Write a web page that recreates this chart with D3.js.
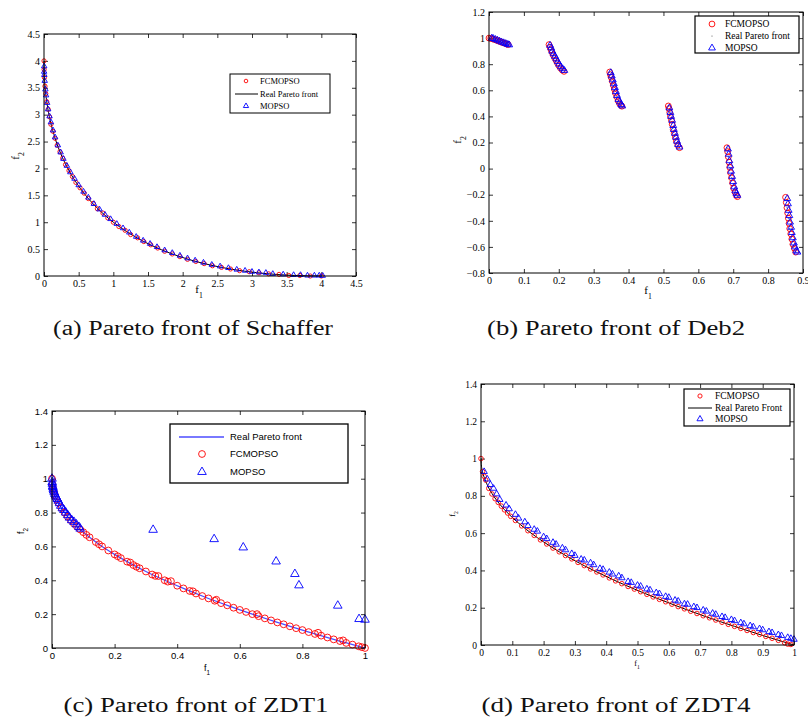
<!DOCTYPE html>
<html>
<head>
<meta charset="utf-8">
<script src="https://cdnjs.cloudflare.com/ajax/libs/d3/7.8.5/d3.min.js"></script>
<style>
  body { margin: 0; background: #fff; }
</style>
</head>
<body>
<div id="chart"></div>
<script>
// ---- data ----
// (a) Schaffer
var schafferFront = [[0,4],[0.0025,3.80],[0.01,3.61],[0.0225,3.42],[0.04,3.24],[0.09,2.89],[0.16,2.56],[0.25,2.25],[0.36,1.96],[0.49,1.69],[0.64,1.44],[0.81,1.21],[1,1],[1.21,0.81],[1.44,0.64],[1.69,0.49],[1.96,0.36],[2.25,0.25],[2.56,0.16],[2.89,0.09],[3.24,0.04],[3.61,0.01],[4,0]];
var schafferFC = [[0,4.00],[0.002,3.84],[0.006,3.69],[0.014,3.53],[0.026,3.39],[0.04,3.24],[0.06,3.10],[0.08,2.96],[0.10,2.82],[0.13,2.69],[0.16,2.56],[0.19,2.43],[0.23,2.31],[0.27,2.19],[0.31,2.07],[0.36,1.96],[0.41,1.85],[0.46,1.74],[0.52,1.64],[0.58,1.54],[0.64,1.44],[0.71,1.35],[0.77,1.25],[0.85,1.17],[0.92,1.08],[1.00,1.00],[1.08,0.92],[1.17,0.85],[1.25,0.77],[1.35,0.71],[1.44,0.64],[1.54,0.58],[1.64,0.52],[1.74,0.46],[1.85,0.41],[1.96,0.36],[2.07,0.31],[2.19,0.27],[2.31,0.23],[2.43,0.19],[2.56,0.16],[2.69,0.13],[2.82,0.10],[2.96,0.08],[3.10,0.06],[3.24,0.04],[3.39,0.03],[3.53,0.01],[3.69,0.01],[3.84,0.00],[4.00,0.00]];
var schafferMO = [[0.003,3.90],[0.002,3.80],[0.005,3.74],[0.01,3.63],[0.02,3.47],[0.03,3.36],[0.045,3.22],[0.06,3.10],[0.08,2.97],[0.10,2.86],[0.13,2.71],[0.16,2.58],[0.20,2.43],[0.24,2.30],[0.28,2.18],[0.33,2.05],[0.38,1.93],[0.44,1.81],[0.50,1.69],[0.57,1.57],[0.64,1.46],[0.72,1.34],[0.80,1.24],[0.88,1.14],[0.96,1.06],[1.05,0.97],[1.14,0.89],[1.23,0.81],[1.33,0.73],[1.43,0.66],[1.53,0.60],[1.63,0.54],[1.74,0.48],[1.85,0.43],[1.96,0.38],[2.07,0.33],[2.18,0.29],[2.30,0.25],[2.42,0.21],[2.54,0.18],[2.66,0.15],[2.78,0.12],[2.90,0.10],[3.00,0.08],[3.10,0.07],[3.20,0.06],[3.30,0.04],[3.45,0.03],[3.60,0.02],[3.70,0.02],[3.80,0.01],[3.90,0.01],[3.97,0.01],[4.02,0.005]];

// (b) Deb2
var deb2Front = [[0,1.0],[0.01,0.995],[0.02,0.985],[0.03,0.975],[0.04,0.965],[0.05,0.955],[0.057,0.95],
  [0.172,0.95],[0.178,0.91],[0.185,0.865],[0.193,0.825],[0.2,0.79],[0.208,0.765],[0.216,0.748],
  [0.346,0.74],[0.35,0.7],[0.355,0.65],[0.36,0.6],[0.366,0.55],[0.372,0.51],[0.381,0.478],
  [0.514,0.48],[0.518,0.43],[0.522,0.38],[0.527,0.31],[0.532,0.25],[0.538,0.2],[0.546,0.16],
  [0.682,0.16],[0.686,0.09],[0.69,0.01],[0.695,-0.07],[0.7,-0.13],[0.706,-0.185],[0.712,-0.215],
  [0.85,-0.22],[0.854,-0.3],[0.858,-0.38],[0.862,-0.46],[0.867,-0.53],[0.873,-0.6],[0.88,-0.64]];
var deb2FC = [[0,1.0],[0.005,0.998],[0.01,0.994],[0.015,0.99],[0.02,0.985],[0.025,0.98],[0.03,0.975],[0.035,0.97],[0.04,0.965],[0.045,0.96],[0.05,0.955],[0.055,0.95],
  [0.172,0.95],[0.175,0.93],[0.178,0.91],[0.181,0.89],[0.184,0.87],[0.188,0.85],[0.192,0.83],[0.196,0.81],[0.2,0.79],[0.205,0.77],[0.21,0.755],[0.215,0.745],
  [0.346,0.74],[0.348,0.72],[0.35,0.7],[0.353,0.67],[0.356,0.64],[0.359,0.61],[0.362,0.58],[0.366,0.55],[0.37,0.52],[0.374,0.5],[0.378,0.485],[0.381,0.478],
  [0.514,0.48],[0.516,0.46],[0.518,0.43],[0.52,0.4],[0.523,0.37],[0.525,0.34],[0.528,0.3],[0.531,0.27],[0.534,0.24],[0.537,0.21],[0.541,0.18],[0.546,0.16],
  [0.682,0.16],[0.684,0.13],[0.686,0.09],[0.688,0.05],[0.69,0.01],[0.692,-0.03],[0.695,-0.07],[0.698,-0.11],[0.701,-0.15],[0.705,-0.18],[0.709,-0.205],[0.712,-0.215],
  [0.85,-0.22],[0.852,-0.26],[0.854,-0.3],[0.856,-0.34],[0.858,-0.38],[0.86,-0.42],[0.862,-0.46],[0.865,-0.5],[0.868,-0.54],[0.871,-0.58],[0.875,-0.61],[0.879,-0.64]];
var deb2MO = [[0.008,1.0],[0.012,0.997],[0.018,0.99],[0.024,0.984],[0.03,0.977],[0.036,0.97],[0.042,0.964],[0.048,0.958],[0.054,0.952],[0.058,0.948],
  [0.175,0.945],[0.178,0.925],[0.181,0.9],[0.185,0.88],[0.189,0.86],[0.193,0.84],[0.197,0.82],[0.201,0.8],[0.206,0.78],[0.211,0.765],[0.216,0.752],
  [0.349,0.735],[0.352,0.71],[0.355,0.68],[0.358,0.65],[0.361,0.62],[0.364,0.59],[0.367,0.56],[0.371,0.53],[0.375,0.51],[0.379,0.49],[0.382,0.48],
  [0.517,0.465],[0.52,0.43],[0.522,0.4],[0.525,0.37],[0.528,0.33],[0.53,0.3],[0.533,0.27],[0.536,0.24],[0.539,0.21],[0.542,0.185],[0.546,0.165],
  [0.685,0.15],[0.687,0.11],[0.689,0.06],[0.692,0.02],[0.694,-0.02],[0.697,-0.06],[0.7,-0.1],[0.703,-0.14],[0.706,-0.17],[0.709,-0.19],[0.712,-0.205],
  [0.855,-0.23],[0.857,-0.27],[0.859,-0.32],[0.861,-0.36],[0.863,-0.41],[0.866,-0.45],[0.868,-0.49],[0.871,-0.53],[0.874,-0.57],[0.877,-0.6],[0.881,-0.63],[0.884,-0.64]];

// (c) ZDT1 and (d) ZDT4 share the same true front
var zdtFront = [[0,1],[0.001,0.968],[0.005,0.929],[0.01,0.9],[0.02,0.859],[0.04,0.8],[0.06,0.755],[0.09,0.7],[0.12,0.654],[0.16,0.6],[0.2,0.553],[0.25,0.5],[0.3,0.452],[0.36,0.4],[0.42,0.352],[0.49,0.3],[0.56,0.252],[0.64,0.2],[0.72,0.151],[0.81,0.1],[0.9,0.051],[1,0]];
var zdt1FC = [[0,1.0],[0.001,0.968],[0.003,0.945],[0.006,0.923],[0.01,0.9],[0.015,0.878],[0.02,0.859],[0.03,0.827],[0.04,0.8],[0.05,0.776],[0.06,0.755],[0.07,0.735],[0.08,0.717],[0.09,0.7],[0.1,0.684],[0.11,0.668],[0.12,0.654],[0.14,0.626],[0.15,0.613],[0.16,0.6],[0.18,0.576],[0.2,0.553],[0.21,0.542],[0.22,0.531],[0.24,0.51],[0.25,0.505],[0.26,0.49],[0.27,0.48],[0.28,0.471],[0.3,0.452],[0.32,0.434],[0.33,0.426],[0.34,0.425],[0.36,0.4],[0.37,0.392],[0.38,0.395],[0.4,0.368],[0.42,0.352],[0.44,0.337],[0.45,0.335],[0.46,0.322],[0.48,0.307],[0.5,0.293],[0.52,0.279],[0.525,0.285],[0.54,0.265],[0.56,0.252],[0.58,0.238],[0.6,0.225],[0.62,0.213],[0.64,0.2],[0.655,0.2],[0.66,0.188],[0.68,0.175],[0.7,0.163],[0.72,0.151],[0.74,0.14],[0.76,0.128],[0.78,0.117],[0.8,0.106],[0.82,0.094],[0.84,0.083],[0.85,0.09],[0.86,0.073],[0.88,0.062],[0.9,0.051],[0.92,0.041],[0.93,0.045],[0.94,0.03],[0.96,0.02],[0.98,0.01],[0.99,0.005],[1,0]];
var zdt1MO = [[0,1.0],[0.0005,0.98],[0.001,0.97],[0.002,0.955],[0.003,0.95],[0.004,0.94],[0.005,0.93],[0.007,0.92],[0.009,0.91],[0.011,0.9],[0.014,0.89],[0.017,0.88],[0.02,0.87],[0.024,0.855],[0.028,0.84],[0.033,0.825],[0.038,0.815],[0.044,0.8],[0.05,0.785],[0.056,0.77],[0.063,0.755],[0.07,0.745],[0.078,0.73],[0.086,0.715],[0.09,0.705],
  [0.323,0.698],[0.518,0.643],[0.611,0.594],[0.716,0.511],[0.776,0.437],[0.789,0.37],[0.913,0.25],[0.981,0.171],[1.0,0.167]];
var zdt4FC = [[0,1.0],[0.005,0.93],[0.01,0.905],[0.015,0.885],[0.025,0.84],[0.035,0.81],[0.045,0.785],[0.055,0.765],[0.065,0.745],[0.075,0.725],[0.085,0.708],[0.095,0.69],[0.11,0.668],[0.13,0.639],[0.15,0.613],[0.17,0.588],[0.19,0.564],[0.21,0.542],[0.23,0.52],[0.25,0.5],[0.27,0.48],[0.29,0.462],[0.31,0.443],[0.33,0.426],[0.35,0.408],[0.37,0.392],[0.39,0.376],[0.41,0.36],[0.43,0.344],[0.45,0.329],[0.47,0.314],[0.49,0.3],[0.51,0.286],[0.53,0.272],[0.55,0.258],[0.57,0.245],[0.59,0.232],[0.61,0.219],[0.63,0.206],[0.65,0.194],[0.67,0.181],[0.69,0.169],[0.71,0.157],[0.73,0.146],[0.75,0.134],[0.77,0.122],[0.79,0.111],[0.81,0.1],[0.83,0.089],[0.85,0.078],[0.87,0.067],[0.89,0.057],[0.91,0.046],[0.93,0.036],[0.95,0.025],[0.97,0.012],[0.98,0.005],[0.99,0.003]];
var zdt4MO = [[0.01,0.93],[0.02,0.89],[0.03,0.86],[0.04,0.84],[0.05,0.81],[0.06,0.78],[0.08,0.75],[0.09,0.73],[0.11,0.70],[0.12,0.68],[0.14,0.66],[0.15,0.64],[0.17,0.62],[0.18,0.61],[0.2,0.58],[0.21,0.57],[0.23,0.55],[0.24,0.54],[0.26,0.52],[0.27,0.51],[0.29,0.49],[0.3,0.48],[0.32,0.46],[0.33,0.455],[0.35,0.44],[0.36,0.43],[0.38,0.41],[0.39,0.405],[0.41,0.39],[0.42,0.38],[0.44,0.37],[0.45,0.36],[0.47,0.34],[0.48,0.335],[0.5,0.32],[0.51,0.315],[0.53,0.30],[0.54,0.295],[0.56,0.28],[0.57,0.275],[0.59,0.26],[0.6,0.255],[0.62,0.24],[0.63,0.235],[0.65,0.22],[0.66,0.218],[0.68,0.205],[0.69,0.2],[0.71,0.187],[0.72,0.181],[0.74,0.17],[0.75,0.164],[0.77,0.152],[0.78,0.147],[0.8,0.136],[0.81,0.13],[0.83,0.119],[0.84,0.113],[0.86,0.103],[0.87,0.097],[0.89,0.087],[0.9,0.081],[0.92,0.071],[0.93,0.066],[0.95,0.055],[0.96,0.05],[0.98,0.04],[0.99,0.035],[1.0,0.03]];

// ticks
var ticksA = [0,0.5,1,1.5,2,2.5,3,3.5,4,4.5];
var ticksBx = [0,0.1,0.2,0.3,0.4,0.5,0.6,0.7,0.8,0.9];
var ticksBy = [-0.8,-0.6,-0.4,-0.2,0,0.2,0.4,0.6,0.8,1,1.2];
var ticksCx = [0,0.2,0.4,0.6,0.8,1];
var ticksCDy = [0,0.2,0.4,0.6,0.8,1,1.2,1.4];
var ticksDx = [0,0.1,0.2,0.3,0.4,0.5,0.6,0.7,0.8,0.9,1];

var captions = ["(a) Pareto front of Schaffer", "(b) Pareto front of Deb2", "(c) Pareto front of ZDT1", "(d) Pareto front of ZDT4"];

var width = 808, height = 720;
var serif = "'Liberation Serif', 'Times New Roman', serif";
var sans = "'Liberation Sans', Arial, sans-serif";

var svg = d3.select("#chart").append("svg")
    .attr("width", width)
    .attr("height", height);

function drawPanel(p) {
    var x = d3.scaleLinear().domain(p.xDomain).range([p.left, p.right]);
    var y = d3.scaleLinear().domain(p.yDomain).range([p.bottom, p.top]);
    var g = svg.append("g");
    var fmt = function (d) { return String(d).replace("-", "\u2212"); };

    // axes, MATLAB style: ticks inside on all four sides
    var axes = [
        [d3.axisBottom(x).tickValues(p.xTicks).tickFormat(fmt), "translate(0," + p.bottom + ")"],
        [d3.axisTop(x).tickValues(p.xTicks).tickFormat(""), "translate(0," + p.top + ")"],
        [d3.axisLeft(y).tickValues(p.yTicks).tickFormat(fmt), "translate(" + p.left + ",0)"],
        [d3.axisRight(y).tickValues(p.yTicks).tickFormat(""), "translate(" + p.right + ",0)"]
    ];
    axes.forEach(function (a) {
        var ag = g.append("g").attr("transform", a[1])
            .call(a[0].tickSize(-4).tickPadding(4));
        ag.select(".domain").remove();
        ag.attr("font-family", p.font).attr("font-size", p.tickSize);
        ag.selectAll("line").attr("stroke", "#000").attr("stroke-width", 0.8);
        ag.selectAll("text").attr("fill", "#000");
    });

    var line = d3.line()
        .x(function (d) { return x(d[0]); })
        .y(function (d) { return y(d[1]); })
        .curve(d3.curveMonotoneX);

    // series
    p.series.forEach(function (s) {
        if (s.type === "line") {
            g.append("path").datum(s.data)
                .attr("fill", "none")
                .attr("stroke", s.color)
                .attr("stroke-width", s.width)
                .attr("d", line);
        } else if (s.type === "dot") {
            g.append("g").selectAll("circle").data(s.data).enter().append("circle")
                .attr("cx", function (d) { return x(d[0]); })
                .attr("cy", function (d) { return y(d[1]); })
                .attr("r", 0.6)
                .attr("fill", "#555");
        } else if (s.type === "circle") {
            g.append("g").selectAll("circle").data(s.data).enter().append("circle")
                .attr("cx", function (d) { return x(d[0]); })
                .attr("cy", function (d) { return y(d[1]); })
                .attr("r", s.r)
                .attr("fill", "none")
                .attr("stroke", "#ff0000")
                .attr("stroke-width", 0.9);
        } else {
            var sym = d3.symbol().type(d3.symbolTriangle).size(s.size);
            g.append("g").selectAll("path").data(s.data).enter().append("path")
                .attr("transform", function (d) { return "translate(" + x(d[0]) + "," + y(d[1]) + ")"; })
                .attr("d", sym)
                .attr("fill", "none")
                .attr("stroke", "#0000ff")
                .attr("stroke-width", 0.9);
        }
    });

    // box
    g.append("rect")
        .attr("x", p.left).attr("y", p.top)
        .attr("width", p.right - p.left).attr("height", p.bottom - p.top)
        .attr("fill", "none").attr("stroke", "#000").attr("stroke-width", 1);

    // axis labels f1 / f2
    var xl = g.append("text")
        .attr("x", p.xLabel[0]).attr("y", p.xLabel[1])
        .attr("text-anchor", "middle")
        .attr("font-family", p.font).attr("font-size", p.labelSize);
    xl.append("tspan").text("f");
    xl.append("tspan").attr("baseline-shift", "sub").attr("font-size", p.labelSize * 0.7).text("1");
    var yl = g.append("text")
        .attr("transform", "translate(" + p.yLabel[0] + "," + p.yLabel[1] + ") rotate(-90)")
        .attr("text-anchor", "middle")
        .attr("font-family", p.font).attr("font-size", p.labelSize);
    yl.append("tspan").text("f");
    yl.append("tspan").attr("baseline-shift", "sub").attr("font-size", p.labelSize * 0.7).text("2");

    // legend
    var lg = p.legend;
    var leg = g.append("g");
    leg.append("rect")
        .attr("x", lg.box[0]).attr("y", lg.box[1])
        .attr("width", lg.box[2] - lg.box[0]).attr("height", lg.box[3] - lg.box[1])
        .attr("fill", "#fff").attr("stroke", "#000").attr("stroke-width", lg.stroke);
    lg.items.forEach(function (it, i) {
        var ry = lg.rows[i];
        if (it.type === "line") {
            leg.append("line")
                .attr("x1", lg.line[0]).attr("x2", lg.line[1])
                .attr("y1", ry).attr("y2", ry)
                .attr("stroke", it.color).attr("stroke-width", it.width);
        } else if (it.type === "dot") {
            leg.append("circle").attr("cx", lg.markX).attr("cy", ry).attr("r", 0.6).attr("fill", "#555");
        } else if (it.type === "circle") {
            leg.append("circle").attr("cx", lg.markX).attr("cy", ry).attr("r", it.r)
                .attr("fill", "none").attr("stroke", "#ff0000").attr("stroke-width", 0.9);
        } else {
            leg.append("path")
                .attr("transform", "translate(" + lg.markX + "," + ry + ")")
                .attr("d", d3.symbol().type(d3.symbolTriangle).size(it.size))
                .attr("fill", "none").attr("stroke", "#0000ff").attr("stroke-width", 0.9);
        }
        leg.append("text")
            .attr("x", lg.textX).attr("y", ry).attr("dy", "0.35em")
            .attr("font-family", p.font).attr("font-size", lg.fontSize)
            .text(it.label);
    });

    // caption
    svg.append("text")
        .attr("x", p.caption[0]).attr("y", p.caption[1])
        .attr("text-anchor", "middle")
        .attr("font-family", serif).attr("font-size", 20)
        .attr("fill", "#111")
        .attr("textLength", p.caption[2]).attr("lengthAdjust", "spacingAndGlyphs")
        .text(p.caption[3]);
}

drawPanel({
    left: 44, right: 356, top: 34, bottom: 276,
    xDomain: [0, 4.5], yDomain: [0, 4.5], xTicks: ticksA, yTicks: ticksA,
    font: serif, tickSize: 10, labelSize: 11,
    xLabel: [199, 293], yLabel: [19, 156],
    series: [
        {type: "line", data: schafferFront, color: "#000", width: 1},
        {type: "circle", data: schafferFC, r: 2.1},
        {type: "tri", data: schafferMO, size: 13}
    ],
    legend: {
        box: [230, 74, 330, 113], rows: [81, 94, 106], markX: 246, line: [235, 258], textX: 260,
        fontSize: 8.5, stroke: 1,
        items: [
            {type: "circle", r: 1.8, label: "FCMOPSO"},
            {type: "line", color: "#000", width: 1, label: "Real Pareto front"},
            {type: "tri", size: 12, label: "MOPSO"}
        ]
    },
    caption: [193, 335, 280, captions[0]]
});

drawPanel({
    left: 489, right: 803, top: 12, bottom: 273,
    xDomain: [0, 0.9], yDomain: [-0.8, 1.2], xTicks: ticksBx, yTicks: ticksBy,
    font: serif, tickSize: 10, labelSize: 11,
    xLabel: [648, 294], yLabel: [461, 140],
    series: [
        {type: "dot", data: deb2Front},
        {type: "circle", data: deb2FC, r: 2.9},
        {type: "tri", data: deb2MO, size: 20}
    ],
    legend: {
        box: [695, 16, 799, 53], rows: [24, 36, 48], markX: 712, line: [700, 722], textX: 725,
        fontSize: 9.5, stroke: 1.2,
        items: [
            {type: "circle", r: 2.9, label: "FCMOPSO"},
            {type: "dot", label: "Real Pareto front"},
            {type: "tri", size: 20, label: "MOPSO"}
        ]
    },
    caption: [616, 335, 258, captions[1]]
});

drawPanel({
    left: 52, right: 365, top: 411, bottom: 648,
    xDomain: [0, 1], yDomain: [0, 1.4], xTicks: ticksCx, yTicks: ticksCDy,
    font: sans, tickSize: 9.5, labelSize: 9,
    xLabel: [207, 671], yLabel: [24, 531],
    series: [
        {type: "line", data: zdtFront, color: "#4d4dff", width: 1.2},
        {type: "circle", data: zdt1FC, r: 3.4},
        {type: "tri", data: zdt1MO, size: 32}
    ],
    legend: {
        box: [170, 424, 348, 483], rows: [437, 454, 472], markX: 202, line: [179, 224], textX: 230,
        fontSize: 9.5, stroke: 1.3,
        items: [
            {type: "line", color: "#4d4dff", width: 1.5, label: "Real Pareto front"},
            {type: "circle", r: 3.4, label: "FCMOPSO"},
            {type: "tri", size: 32, label: "MOPSO"}
        ]
    },
    caption: [196, 712, 265, captions[2]]
});

drawPanel({
    left: 481, right: 794, top: 384, bottom: 645,
    xDomain: [0, 1], yDomain: [0, 1.4], xTicks: ticksDx, yTicks: ticksCDy,
    font: serif, tickSize: 9.5, labelSize: 8,
    xLabel: [637, 666], yLabel: [455, 514],
    series: [
        {type: "line", data: zdtFront, color: "#000", width: 1},
        {type: "circle", data: zdt4FC, r: 2.3},
        {type: "tri", data: zdt4MO, size: 18}
    ],
    legend: {
        box: [684, 389, 790, 426], rows: [396, 408, 419], markX: 700, line: [688, 712], textX: 715,
        fontSize: 9.5, stroke: 1.2,
        items: [
            {type: "circle", r: 2.1, label: "FCMOPSO"},
            {type: "line", color: "#000", width: 1, label: "Real Pareto Front"},
            {type: "tri", size: 16, label: "MOPSO"}
        ]
    },
    caption: [616, 712, 269, captions[3]]
});
</script>
</body>
</html>
